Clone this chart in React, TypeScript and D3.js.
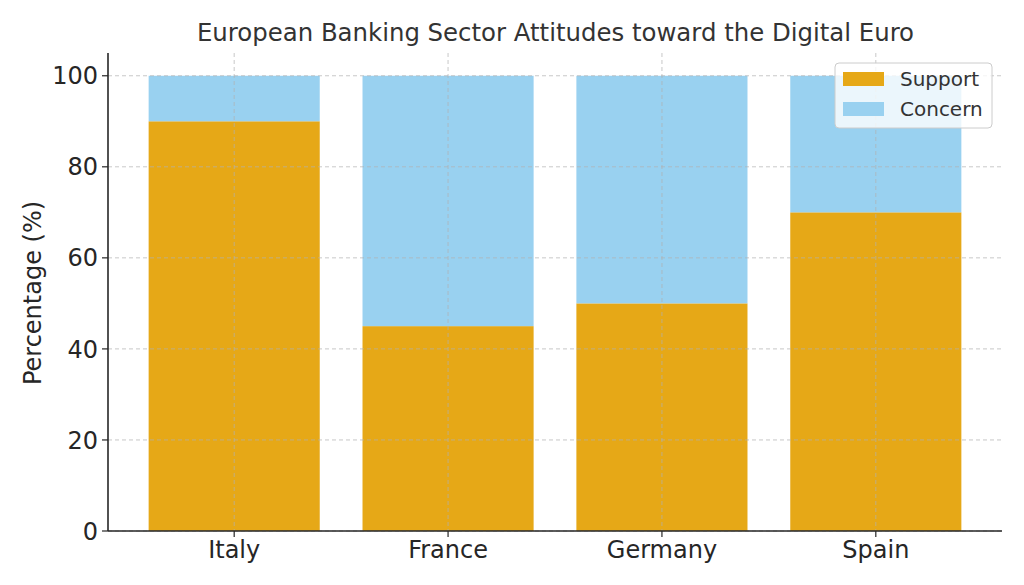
import React from "react";
import * as d3 from "d3";

const countries = ["Italy", "France", "Germany", "Spain"];
const support = [90, 45, 50, 70];
const concern = [10, 55, 50, 30];
const yTicks = [0, 20, 40, 60, 80, 100];
const seriesNames = ["Support", "Concern"];

const W = 1024, H = 585;
const L = 108, R = 1002, T = 53, B = 531;
const SUPPORT = "#E6A817";
const CONCERN = "#99D1F0";
const TXT = "#262626";
const FONT = "DejaVu Sans, sans-serif";

export default function App() {
  const x = d3.scaleLinear().domain([-0.59, countries.length - 1 + 0.59]).range([L, R]);
  const y = d3.scaleLinear().domain([0, 105]).range([B, T]);
  const bw = x(0.8) - x(0);

  return (
    <svg width={W} height={H} style={{ position: "absolute", left: 0, top: 0, background: "#fff" }} fontFamily={FONT}>
      {countries.map((c, i) => (
        <g key={c}>
          <rect x={x(i) - bw / 2} y={y(support[i])} width={bw} height={y(0) - y(support[i])} fill={SUPPORT} />
          <rect x={x(i) - bw / 2} y={y(support[i] + concern[i])} width={bw} height={y(support[i]) - y(support[i] + concern[i])} fill={CONCERN} />
        </g>
      ))}
      {yTicks.map((t) => (
        <line key={"gy" + t} x1={L} x2={R} y1={y(t)} y2={y(t)} stroke="#b0b0b0" strokeOpacity={0.7} strokeDasharray="4,3" strokeWidth={1} />
      ))}
      {countries.map((c, i) => (
        <line key={"gx" + c} x1={x(i)} x2={x(i)} y1={T} y2={B} stroke="#b0b0b0" strokeOpacity={0.7} strokeDasharray="4,3" strokeWidth={1} />
      ))}
      <line x1={L} x2={L} y1={T} y2={B} stroke={TXT} strokeWidth={1.6} />
      <line x1={L} x2={R} y1={B} y2={B} stroke={TXT} strokeWidth={1.6} />
      {yTicks.map((t) => (
        <g key={"ty" + t}>
          <line x1={L - 6} x2={L} y1={y(t)} y2={y(t)} stroke={TXT} strokeWidth={1.2} />
          <text x={L - 10} y={y(t)} dy="0.36em" textAnchor="end" fontSize={24} fill={TXT}>{t}</text>
        </g>
      ))}
      {countries.map((c, i) => (
        <g key={"tx" + c}>
          <line x1={x(i)} x2={x(i)} y1={B} y2={B + 6} stroke={TXT} strokeWidth={1.2} />
          <text x={x(i)} y={B + 27} textAnchor="middle" fontSize={24} fill={TXT}>{c}</text>
        </g>
      ))}
      <text transform={`translate(41,${(T + B) / 2 + 1}) rotate(-90)`} textAnchor="middle" fontSize={24} fill={TXT}>Percentage (%)</text>
      <text x={(L + R) / 2 + 0.5} y={41} textAnchor="middle" fontSize={24.4} fill="#333333">European Banking Sector Attitudes toward the Digital Euro</text>
      <g>
        <rect x={835} y={63} width={157} height={65} rx={4} fill="#fff" fillOpacity={0.8} stroke="#cccccc" strokeWidth={1} />
        {seriesNames.map((s, i) => (
          <g key={s}>
            <rect x={843} y={72 + i * 30} width={41} height={14} fill={i === 0 ? SUPPORT : CONCERN} />
            <text x={900} y={79 + i * 30} dy="0.36em" fontSize={20} fill="#333333">{s}</text>
          </g>
        ))}
      </g>
    </svg>
  );
}
